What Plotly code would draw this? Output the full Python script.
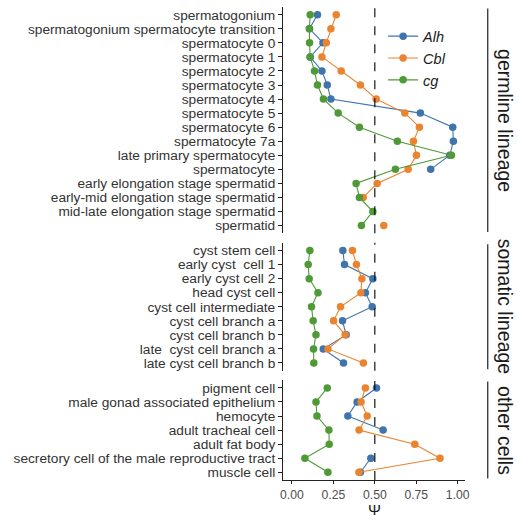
import plotly.graph_objects as go

# ---------------- data ----------------
germline = ["spermatogonium", "spermatogonium spermatocyte transition", "spermatocyte 0",
            "spermatocyte 1", "spermatocyte 2", "spermatocyte 3", "spermatocyte 4",
            "spermatocyte 5", "spermatocyte 6", "spermatocyte 7a", "late primary spermatocyte",
            "spermatocyte", "early elongation stage spermatid", "early-mid elongation stage spermatid",
            "mid-late elongation stage spermatid", "spermatid"]
germ_alh = [0.154, 0.106, 0.187, 0.110, 0.181, 0.213, 0.235, 0.775, 0.970, 0.974, 0.952, 0.837,
            None, None, None, None]
germ_cbl = [0.267, 0.235, 0.207, 0.181, 0.297, 0.413, 0.508, 0.681, 0.769, 0.733, 0.751, 0.701,
            0.514, 0.430, None, 0.554]
germ_cg = [0.110, 0.105, 0.106, 0.110, 0.136, 0.154, 0.190, 0.279, 0.407, 0.636, 0.962, 0.624,
           0.387, 0.407, 0.488, 0.419]

somatic = ["cyst stem cell", "early cyst  cell 1", "early cyst cell 2", "head cyst cell",
           "cyst cell intermediate", "cyst cell branch a", "cyst cell branch b",
           "late  cyst cell branch a", "late cyst cell branch b"]
som_alh = [0.307, 0.317, 0.488, 0.443, 0.484, 0.305, 0.327, 0.189, 0.311]
som_cbl = [0.365, 0.389, 0.422, 0.416, 0.293, 0.251, 0.321, 0.217, 0.431]
som_cg = [0.108, 0.098, 0.104, 0.157, 0.118, 0.128, 0.145, 0.130, 0.132]

other = ["pigment cell", "male gonad associated epithelium", "hemocyte", "adult tracheal cell",
         "adult fat body", "secretory cell of the male reproductive tract", "muscle cell"]
oth_alh = [0.510, 0.393, 0.337, 0.550, None, 0.476, 0.413]
oth_cbl = [0.443, 0.417, 0.454, 0.405, 0.741, 0.893, 0.404]
oth_cg = [0.213, 0.145, 0.151, 0.223, 0.225, 0.078, 0.217]

panel_labels = ["germline lineage", "somatic lineage", "other cells"]
series_names = ["Alh", "Cbl", "cg"]
x_ticks = [0.0, 0.25, 0.5, 0.75, 1.0]
x_tick_labels = ["0.00", "0.25", "0.50", "0.75", "1.00"]
x_title = "Ψ"
threshold = 0.5

colors = {"Alh": "#3F75AC", "Cbl": "#EA842F", "cg": "#4F9A37"}

panels = [
    (germline, {"Alh": germ_alh, "Cbl": germ_cbl, "cg": germ_cg}),
    (somatic, {"Alh": som_alh, "Cbl": som_cbl, "cg": som_cg}),
    (other, {"Alh": oth_alh, "Cbl": oth_cbl, "cg": oth_cg}),
]

# ---------------- layout geometry ----------------
W, H = 517, 519
mt, mb, ml, mr = 7, 39, 283, 52
plot_h = H - mt - mb
gap_px = 9.5
pad = 0.55
units = [len(c) - 1 + 2 * pad for c, _ in panels]
px_per_unit = (plot_h - 2 * gap_px) / sum(units)

domains = []
top = 0.0
for u in units:
    h = u * px_per_unit
    domains.append([1 - (top + h) / plot_h, 1 - top / plot_h])
    top += h + gap_px

FONT = "Liberation Sans, Arial, sans-serif"
fig = go.Figure()
axis_color = "#222222"
tick_font = dict(family=FONT, size=13.7, color="#333333")

shapes = []
annotations = []
for i, (cats, vals) in enumerate(panels):
    idx = i + 1
    xa = "x" if idx == 1 else f"x{idx}"
    ya = "y" if idx == 1 else f"y{idx}"
    for name in series_names:
        fig.add_trace(go.Scatter(
            x=vals[name], y=cats, mode="lines+markers", name=name,
            xaxis=xa, yaxis=ya, showlegend=(idx == 1),
            connectgaps=False,
            line=dict(color=colors[name], width=1.1),
            marker=dict(color=colors[name], size=7.5),
        ))
    n = len(cats)
    yk = "yaxis" if idx == 1 else f"yaxis{idx}"
    xk = "xaxis" if idx == 1 else f"xaxis{idx}"
    fig.update_layout(**{
        yk: dict(domain=domains[i], anchor=xa, type="category",
                 categoryorder="array", categoryarray=cats,
                 tickmode="array", tickvals=cats, ticktext=cats,
                 range=[n - 1 + pad, -pad], showline=True, linecolor=axis_color,
                 linewidth=1, ticks="outside", ticklen=4, tickcolor=axis_color,
                 tickfont=tick_font, showgrid=False, zeroline=False, fixedrange=True,
                 automargin=False),
        xk: dict(domain=[0, 1], anchor=ya, range=[-0.054, 1.044],
                 showline=(idx == 3), linecolor=axis_color, linewidth=1,
                 ticks="outside" if idx == 3 else "", ticklen=3, tickcolor=axis_color,
                 tickvals=x_ticks, ticktext=x_tick_labels, showticklabels=(idx == 3),
                 tickfont=dict(family=FONT, size=12.2, color="#4D4D4D"),
                 showgrid=False, zeroline=False, automargin=False,
                 **({"matches": "x"} if idx != 1 else {})),
    })
    # dashed threshold line
    shapes.append(dict(type="line", xref=xa, yref=f"{ya} domain", x0=threshold, x1=threshold,
                       y0=0, y1=1, line=dict(color="black", width=1.1, dash="dash")))
    # strip line + label on the right
    d0, d1 = domains[i]
    shapes.append(dict(type="line", xref="paper", yref="paper", x0=1.125, x1=1.125,
                       y0=d0 + 0.003, y1=d1 - 0.003,
                       line=dict(color="#222222", width=1.2)))
    annotations.append(dict(text=panel_labels[i], xref="paper", yref="paper", x=1.22,
                            y=(d0 + d1) / 2, textangle=90, showarrow=False,
                            xanchor="center", yanchor="middle",
                            font=dict(family=FONT, size=19.5, color="#1A1A1A")))

# x-axis title placed below the tick labels, inside the page
annotations.append(dict(text=x_title, xref="x3", yref="paper", x=threshold,
                        y=-(mb - 0.5) / plot_h, showarrow=False, borderpad=0,
                        xanchor="center", yanchor="bottom",
                        font=dict(family=FONT, size=15.5, color="#1A1A1A")))

fig.update_layout(
    width=W, height=H,
    margin=dict(l=ml, r=mr, t=mt, b=mb, pad=0, autoexpand=False),
    paper_bgcolor="white", plot_bgcolor="white",
    shapes=shapes, annotations=annotations,
    showlegend=True,
    legend=dict(x=0.55, y=0.972, xanchor="left", yanchor="top",
                bgcolor="rgba(0,0,0,0)", tracegroupgap=0, itemwidth=30,
                font=dict(family=FONT, size=14.5, color="#1A1A1A", style="italic")),
)

fig.write_html("out.html", config={"displayModeBar": False},
               post_script="document.body.style.margin='0px';")
